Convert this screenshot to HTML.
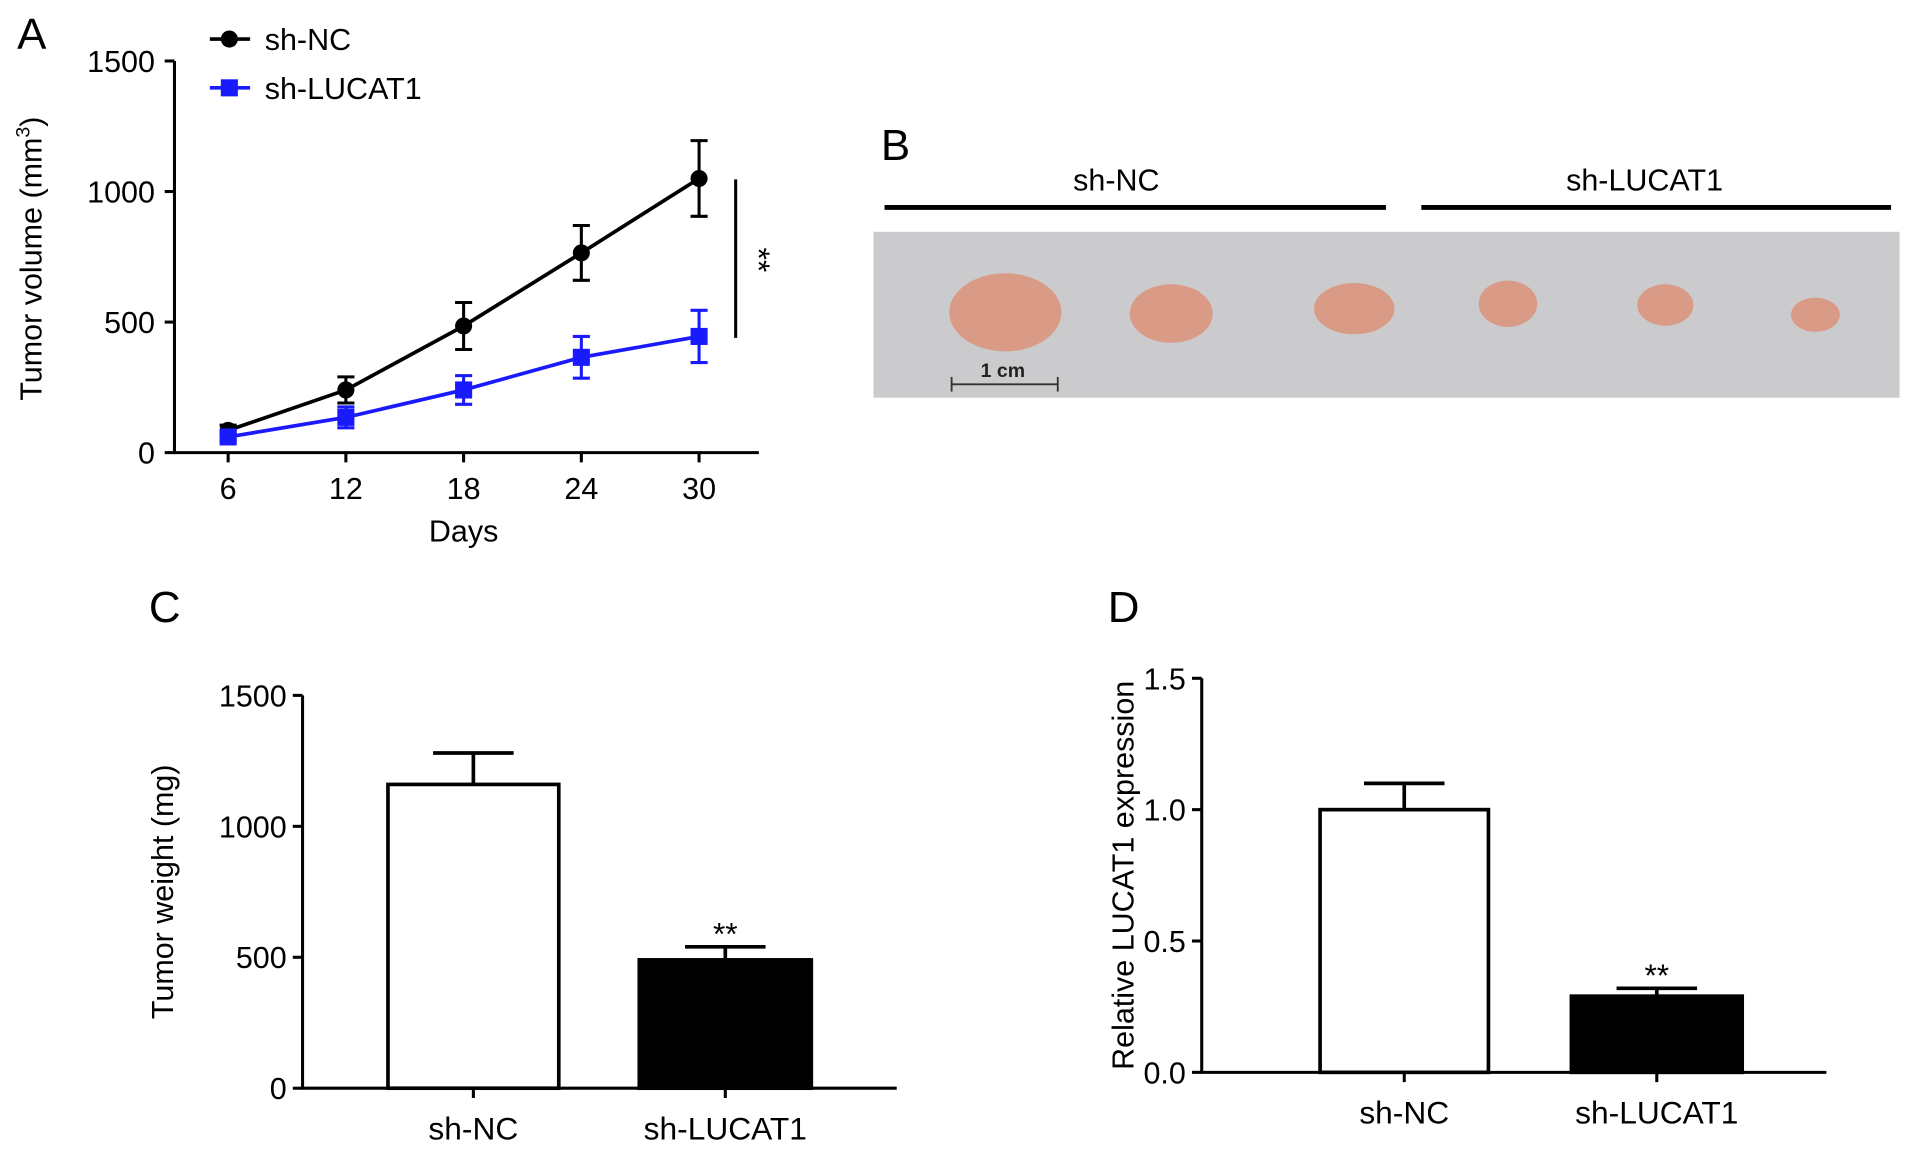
<!DOCTYPE html>
<html><head><meta charset="utf-8"><style>
html,body{margin:0;padding:0;background:#fff;}
svg{display:block;font-family:"Liberation Sans",sans-serif;}
</style></head><body>
<svg id="fig" width="1913" height="1173" viewBox="0 0 1568 961.5" preserveAspectRatio="none">
<g id="pA"></g>
<g id="pB">
 <text x="722" y="131" font-size="36">B</text>
 <line x1="725" y1="170" x2="1136" y2="170" stroke="#000" stroke-width="4"/>
 <line x1="1165" y1="170" x2="1550" y2="170" stroke="#000" stroke-width="4"/>
 <text x="915" y="156" font-size="25" text-anchor="middle">sh-NC</text>
 <text x="1348" y="156" font-size="25" text-anchor="middle">sh-LUCAT1</text>
 <rect x="716" y="190" width="841" height="136" fill="#cbcbcd"/>
 <g fill="#d99a86">
  <ellipse cx="824" cy="256" rx="46" ry="32"/>
  <ellipse cx="960" cy="257" rx="34" ry="24"/>
  <ellipse cx="1110" cy="253" rx="33" ry="21"/>
  <ellipse cx="1236" cy="249" rx="24" ry="19"/>
  <ellipse cx="1365" cy="250" rx="23" ry="17"/>
  <ellipse cx="1488" cy="258" rx="20" ry="14"/>
 </g>
 <line x1="780" y1="315" x2="867" y2="315" stroke="#333" stroke-width="1.5"/>
 <line x1="780" y1="309" x2="780" y2="321" stroke="#333" stroke-width="1.5"/>
 <line x1="867" y1="309" x2="867" y2="321" stroke="#333" stroke-width="1.5"/>
 <text x="822" y="309" font-size="16" font-weight="bold" text-anchor="middle" fill="#222">1 cm</text>
</g>
<g id="pC"></g>
<g id="pD"></g>
</svg>
<script>
const NS="http://www.w3.org/2000/svg";
function mk(p,t,a,txt){const e=document.createElementNS(NS,t);for(const k in a)e.setAttribute(k,a[k]);if(txt!==undefined)e.textContent=txt;p.appendChild(e);return e;}

// Panel A data
const daysA=[6,12,18,24,30];
const ncA=[85,240,485,765,1050];
const ncErrA=[20,50,90,105,145];
const luA=[60,135,240,365,445];
const luErrA=[15,40,55,80,100];
const yTicksA=[0,500,1000,1500];

// Panel C data
const catsC=["sh-NC","sh-LUCAT1"];
const valsC=[1160,490];
const errC=[120,50];
const yTicksC=[0,500,1000,1500];

// Panel D data
const catsD=["sh-NC","sh-LUCAT1"];
const valsD=[1.0,0.29];
const errD=[0.1,0.03];
const yTicksD=["0.0","0.5","1.0","1.5"];

const FS=25;
(function(){
 const g=document.getElementById('pA');
 const X=d=>187+(d-6)*(573-187)/24, Y=v=>371-v*(371-50)/1500;
 const t=mk(g,'text',{x:14,y:40,'font-size':36},'A');
 
 
 const ax=mk(g,'path',{d:'M143 50 V371 H622',stroke:'#000','stroke-width':2.5,fill:'none'});
 
 
 yTicksA.forEach(v=>{mk(g,'line',{x1:135,x2:143,y1:Y(v),y2:Y(v),stroke:'#000','stroke-width':2.5});
  const l=mk(g,'text',{x:127,y:Y(v)+9,'font-size':FS,'text-anchor':'end'},v);
  
  });
 daysA.forEach(d=>{mk(g,'line',{x1:X(d),x2:X(d),y1:371,y2:379,stroke:'#000','stroke-width':2.5});
  const l=mk(g,'text',{x:X(d),y:409,'font-size':FS,'text-anchor':'middle'},d);
  
  });
 const xt=mk(g,'text',{x:380,y:444,'font-size':FS,'text-anchor':'middle'},'Days');
 
 
 const yt=mk(g,'text',{transform:'translate(34,212) rotate(-90)','font-size':FS,'text-anchor':'middle'});
 
 
 yt.innerHTML='Tumor volume (mm<tspan dy="-10" font-size="16">3</tspan><tspan dy="10">)</tspan>';
 function series(vals,errs,col,sq,name){
  const s=mk(g,'g',{});
  
  
  mk(s,'polyline',{points:daysA.map((d,i)=>X(d)+','+Y(vals[i])).join(' '),fill:'none',stroke:col,'stroke-width':3});
  daysA.forEach((d,i)=>{const x=X(d);
   mk(s,'path',{d:`M${x} ${Y(vals[i]-errs[i])} V${Y(vals[i]+errs[i])} M${x-7} ${Y(vals[i]-errs[i])} h14 M${x-7} ${Y(vals[i]+errs[i])} h14`,stroke:col,'stroke-width':2.5,fill:'none'});
   let p;
   if(sq)p=mk(s,'rect',{x:x-7,y:Y(vals[i])-7,width:14,height:14,fill:col});
   else p=mk(s,'circle',{cx:x,cy:Y(vals[i]),r:7,fill:col});
   
   });
 }
 series(ncA,ncErrA,'#000',false,'series-sh-nc');
 series(luA,luErrA,'#1a1aff',true,'series-sh-lucat1');
 mk(g,'line',{x1:603,x2:603,y1:147,y2:277,stroke:'#000','stroke-width':2.5});
 const st=mk(g,'text',{transform:'translate(613,213) rotate(90)','font-size':26,'text-anchor':'middle'},'**');
 
 
 const lg=mk(g,'g',{});
 
 
 mk(lg,'line',{x1:172,x2:205,y1:32,y2:32,stroke:'#000','stroke-width':3});
 mk(lg,'circle',{cx:188,cy:32,r:7});
 mk(lg,'text',{x:217,y:41,'font-size':FS},'sh-NC');
 mk(lg,'line',{x1:172,x2:205,y1:72,y2:72,stroke:'#1a1aff','stroke-width':3});
 mk(lg,'rect',{x:181,y:65,width:14,height:14,fill:'#1a1aff'});
 mk(lg,'text',{x:217,y:81,'font-size':FS},'sh-LUCAT1');
})();

function barChart(id,label,lx,ax,top,bot,right,max,ticks,cats,vals,errs,bars,ylab,ylx,labY){
 const g=document.getElementById(id);
 const Y=v=>bot-v*(bot-top)/max;
 const pl=mk(g,'text',{x:lx,y:label[1],'font-size':36},label[0]);
 
 
 ticks.forEach(t=>{const v=parseFloat(t);mk(g,'line',{x1:ax-8,x2:ax,y1:Y(v),y2:Y(v),stroke:'#000','stroke-width':2.5});
  const l=mk(g,'text',{x:ax-13,y:Y(v)+9,'font-size':FS,'text-anchor':'end'},t);
  
  });
 cats.forEach((c,i)=>{const [x1,x2]=bars[i],cx=(x1+x2)/2;
  const b=mk(g,'rect',{x:x1,y:Y(vals[i]),width:x2-x1,height:bot-Y(vals[i]),fill:i?'#000':'#fff',stroke:'#000','stroke-width':3});
  
  
  mk(g,'path',{d:`M${cx} ${Y(vals[i])} V${Y(vals[i]+errs[i])} M${cx-33} ${Y(vals[i]+errs[i])} h66`,stroke:'#000','stroke-width':3,fill:'none'});
  mk(g,'line',{x1:cx,x2:cx,y1:bot,y2:bot+8,stroke:'#000','stroke-width':2.5});
  const l=mk(g,'text',{x:cx,y:labY,'font-size':26,'text-anchor':'middle'},c);
  
  
  if(i){const s=mk(g,'text',{x:cx,y:Y(vals[i]+errs[i])-2,'font-size':26,'text-anchor':'middle'},'**');
   
   }
 });
 const a=mk(g,'path',{d:`M${ax} ${top} V${bot} H${right}`,stroke:'#000','stroke-width':2.5,fill:'none'});
 
 
 const yt=mk(g,'text',{transform:`translate(${ylx},${(top+bot)/2}) rotate(-90)`,'font-size':FS,'text-anchor':'middle'},ylab);
 
 
}
barChart('pC',['C',510],122,248,570,892,735,1500,yTicksC.map(String),catsC,valsC,errC,[[318,458],[524,665]],'Tumor weight (mg)',142,934);
barChart('pD',['D',510],908,985,556,879,1497,1.5,yTicksD,catsD,valsD,errD,[[1082,1220],[1288,1428]],'Relative LUCAT1 expression',929,921);
</script>
</body></html>
